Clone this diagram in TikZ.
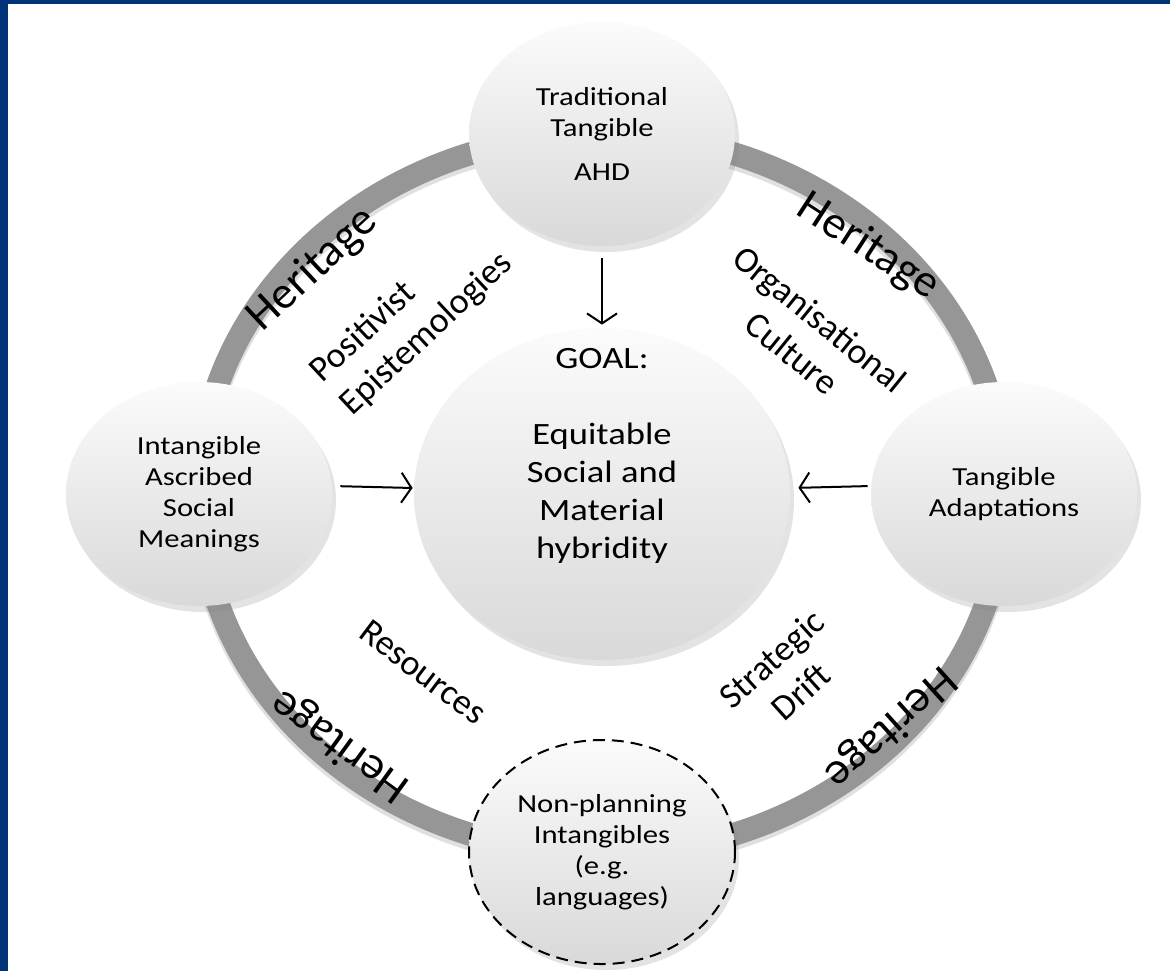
\documentclass[tikz,border=0pt]{standalone}
\usepackage{fontspec}
\setmainfont[FakeStretch=1.18]{Carlito}
\newfontfamily\labelfont{Carlito}
\usetikzlibrary{positioning,backgrounds,shadows,arrows.meta,shapes.geometric}

\definecolor{frameblue}{RGB}{0,51,119}
\definecolor{ringgrey}{RGB}{150,150,150}

\begin{document}
\begin{tikzpicture}[x=0.5pt,y=-0.5pt,on grid]
	\tikzstyle{bubble}=[ellipse,minimum width=133pt,minimum height=112pt,inner sep=0pt,align=center,top color=gray!3,bottom color=gray!30,drop shadow={shadow xshift=2pt,shadow yshift=-3pt,opacity=0.22},font=\fontsize{13}{15.5}\selectfont]
	\tikzstyle{theme}=[inner sep=0pt,align=center,font=\labelfont\fontsize{18}{22}\selectfont]
	\tikzstyle{band}=[inner sep=0pt,font=\labelfont\fontsize{23}{27}\selectfont]
	\tikzstyle{flow}=[-{Straight Barb[length=5pt,width=15pt,line width=1pt]},line width=1pt]
	
	\useasboundingbox (0,0) rectangle (1170,971);
	
	%
	% goal in the middle
	%
	\node [bubble,minimum width=188pt,minimum height=166pt] (goal) at (602,494) {};
	\node [inner sep=0pt,align=center,font=\fontsize{15.5}{19}\selectfont] (goal-text) at ([yshift=19pt]goal.center)
		{GOAL:\\[19pt]Equitable\\Social and\\Material\\hybridity};
	
	%
	% heritage circles round the goal
	%
	\node [bubble,above=180pt of goal] (tangible) {Traditional\\Tangible\\[6.5pt]AHD};
	\node [bubble,left=201.5pt of goal] (intangible) {Intangible\\Ascribed\\Social\\Meanings};
	\node [bubble,right=201pt of goal] (adapt) {Tangible\\Adaptations};
	\node [bubble,below=179pt of goal,draw=black,line width=1pt,dash pattern=on 6pt off 3.5pt] (nonplan) {Non-planning\\Intangibles\\(e.g.\\languages)};
	
	\begin{scope}[flow]
		\draw [shorten <=6pt,shorten >=1.5pt] (tangible) -- (goal);
		\draw [shorten <=4pt,shorten >=0.5pt] ([yshift=4pt]intangible.east) -- ([yshift=3pt]goal.west);
		\draw [shorten <=1.5pt,shorten >=4pt] ([yshift=4pt]adapt.west) -- ([yshift=3pt]goal.east);
	\end{scope}
	
	%
	% ring labels
	%
	\node [band,rotate=43] (her-nw) at (313,270) {Heritage};
	\node [band,rotate=-33] (her-ne) at (868,247) {Heritage};
	\node [band,rotate=144] (her-sw) at (340,745) {Heritage};
	\node [band,rotate=-138] (her-se) at (890,727) {Heritage};
	
	\node [theme,align=left,rotate=43] (positivist) at (412,318) {Positivist\\Epistemologies};
	\node [theme,rotate=-39] (culture) at (806,336) {Organisational\\Culture};
	\node [theme,rotate=-37] (resources) at (423,672) {Resources};
	\node [theme,rotate=42] (drift) at (786,675) {Strategic\\Drift};
	
	%
	% frame and ring
	%
	\begin{scope}[on background layer]
		\fill [white] (0,0) rectangle (1170,971);
		\fill [frameblue] (0,0) rectangle (8,971);
		\fill [frameblue] (0,0) rectangle (1170,4);
		\draw [line width=12pt,black,opacity=0.12] ([yshift=-2pt]goal.center) ellipse [x radius=201.5pt,y radius=180pt];
		\draw [line width=11.5pt,ringgrey] (goal.center) ellipse [x radius=201.5pt,y radius=180pt];
	\end{scope}
	
\end{tikzpicture}
\end{document}
